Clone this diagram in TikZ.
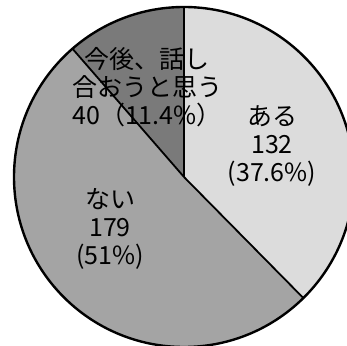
\documentclass[tikz,border=0pt]{standalone}
\usepackage{fontspec}
\usetikzlibrary{calc}
\newfontfamily\jp{Noto Sans CJK JP}
\definecolor{aru}{HTML}{DCDCDC}
\definecolor{nai}{HTML}{A4A4A4}
\definecolor{kongo}{HTML}{7A7A7A}
\tikzset{
  lbl/.style={align=center, font=\jp\fontsize{25}{28}\selectfont, text=black, inner sep=0pt},
  edge/.style={draw=black, line width=1.8pt},
}
\begin{document}
\begin{tikzpicture}[x=1pt,y=1pt]
\useasboundingbox (0,0) rectangle (347,345);
\coordinate (c) at (184,168);
\def\R{170}
\fill[aru] (c) -- ++(90:\R) arc[start angle=90,end angle=-45.4,radius=\R] -- cycle;
\fill[nai] (c) -- ++(-45.4:\R) arc[start angle=-45.4,end angle=-229,radius=\R] -- cycle;
\fill[kongo] (c) -- ++(131:\R) arc[start angle=131,end angle=90,radius=\R] -- cycle;
\coordinate (p1) at ($(c)+(90:\R)$);
\coordinate (p2) at ($(c)+(-45.4:\R)$);
\coordinate (p3) at ($(c)+(131:\R)$);
\draw[edge] (c) -- (p1);
\draw[edge] (c) -- (p2);
\draw[edge] (c) -- (p3);
\node[draw=black, line width=2.4pt, circle, minimum size=340pt, inner sep=0pt] (pie) at (c) {};
\node[lbl] (lk) at (147,258) {今後、話し\\合おうと思う\\40（11.4\%）};
\node[lbl] (la) at (272,199) {ある\\132\\(37.6\%)};
\node[lbl] (ln) at (110,116) {ない\\179\\(51\%)};
\end{tikzpicture}
\end{document}
